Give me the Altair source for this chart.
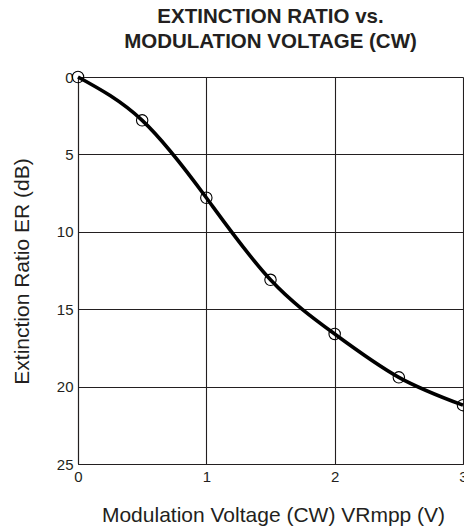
import altair as alt
import pandas as pd

voltage = [0, 0.5, 1.0, 1.5, 2.0, 2.5, 3.0]
extinction = [0, 2.8, 7.8, 13.1, 16.6, 19.4, 21.2]
x_ticks = [0, 1, 2, 3]
y_ticks = [0, 5, 10, 15, 20, 25]

df = pd.DataFrame({"V": voltage, "ER": extinction})

FONT = "Liberation Sans"
INK = "#231f20"
PLOT_W = 385
PLOT_H = 387

x_enc = alt.X(
    "V:Q",
    scale=alt.Scale(domain=[0, 3], nice=False, zero=False),
    axis=alt.Axis(
        values=x_ticks, format="d", title="Modulation Voltage (CW) VRmpp (V)",
        ticks=False, tickSize=0, labelPadding=5, labelFlush=False,
        labelFontSize=15, labelColor=INK, labelFont=FONT,
        titleFontSize=21, titleFontWeight="normal", titleColor=INK, titleFont=FONT,
        titleX=195, titleY=57, titleAnchor="middle", titleAlign="center",
        titleBaseline="alphabetic",
        grid=True, gridColor=INK, gridOpacity=1, gridWidth=1.1,
        domainColor=INK, domainWidth=1.1,
    ),
)
y_enc = alt.Y(
    "ER:Q",
    scale=alt.Scale(domain=[0, 25], nice=False, reverse=True),
    axis=alt.Axis(
        values=y_ticks, format="d", title="Extinction Ratio ER (dB)",
        ticks=False, tickSize=0, labelPadding=5, labelFlush=False,
        labelFontSize=15, labelColor=INK, labelFont=FONT,
        titleFontSize=21, titleFontWeight="normal", titleColor=INK, titleFont=FONT,
        titleX=-56, titleY=194, titleAngle=270, titleAlign="center",
        titleBaseline="middle",
        grid=True, gridColor=INK, gridOpacity=1, gridWidth=1.1,
        domainColor=INK, domainWidth=1.1,
    ),
)

line = alt.Chart(df).mark_line(
    color="black", strokeWidth=3.6, interpolate="natural", clip=False
).encode(x=x_enc, y=y_enc)

points = alt.Chart(df).mark_point(
    shape="circle", size=130, filled=False, color="black", strokeWidth=1.1, opacity=1
).encode(x="V:Q", y="ER:Q")

chart = alt.layer(line, points).properties(
    width=PLOT_W,
    height=PLOT_H,
    autosize=alt.AutoSizeParams(type="none"),
    padding={"left": 70, "top": 69, "right": 1, "bottom": 62},
    title=alt.TitleParams(
        text=["EXTINCTION RATIO vs.", "MODULATION VOLTAGE (CW)"],
        font=FONT, fontSize=20.5, fontWeight="bold", color=INK,
        anchor="middle", frame="group", offset=17, lineHeight=25,
    ),
).configure_view(stroke=INK, strokeWidth=1.1).configure(background="white")

chart.save("out.html", embed_options={"renderer": "svg", "actions": False})
